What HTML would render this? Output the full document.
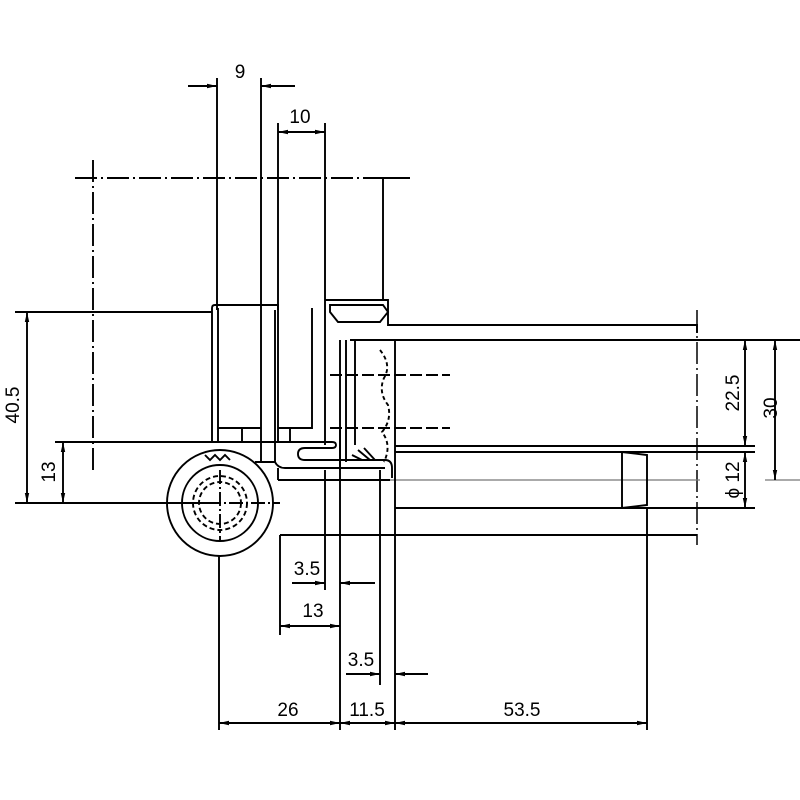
<!DOCTYPE html>
<html><head><style>
html,body{margin:0;padding:0;background:#fff;}
svg{display:block;}
text{font-family:"Liberation Sans",sans-serif;font-size:19px;fill:#000;}
</style></head><body>
<svg width="800" height="800" viewBox="0 0 800 800" xmlns="http://www.w3.org/2000/svg">
<defs>
<marker id="a" viewBox="0 0 10 6" refX="10" refY="3" markerWidth="11" markerHeight="6" orient="auto-start-reverse" markerUnits="userSpaceOnUse"><path d="M0,0.8 L10,3 L0,5.2z" fill="#000"/></marker>
</defs>
<g stroke="#000" fill="none" stroke-width="1.9">
<path d="M75,178 H383" stroke-dasharray="22,4,2,4"/>
<path d="M93,160 V470" stroke-dasharray="22,4,2,4"/>
<path d="M383,178 H410 M383,178 V300"/>
<path d="M697,310 V545" stroke-dasharray="22,4,2,4" stroke-width="1.5"/>
<path d="M380,480 H700 M765,480 H800" stroke="#777" stroke-width="1.2"/>
<path d="M217,78 V310 M261,78 V310 M278,123 V310 M325,123 V300"/>
<path d="M188,86 H217" marker-end="url(#a)"/>
<path d="M295,86 H261" marker-end="url(#a)"/>
<path d="M278,132 H301" marker-start="url(#a)"/>
<path d="M301,132 H325" marker-end="url(#a)"/>
<path d="M15,312 H212 M15,503 H220 M55,442 H330"/>
<path d="M27,312 V503" marker-start="url(#a)" marker-end="url(#a)"/>
<path d="M63,442 V503" marker-start="url(#a)" marker-end="url(#a)"/>
<path d="M212,442 V308 Q212,305 215,305 H278 V442"/>
<path d="M218,308 V442 M218,428 H261 M242,428 V442 M278,428 H312 V308 M290,428 V442 M261,310 V462 M275,310 V462"/>
<path d="M325,300 V445 M325,300 H388 V325 H697 V333"/>
<path d="M330,305 H383 L388,312 L380,322 H338 L330,312 Z"/>
<path d="M340,340 V470 M346,340 V462 M350,340 H395 V500 M355,340 V445"/>
<path d="M395,340 H800 M395,446 H755 M395,452 H755 M395,508 H755 M280,535 H697"/>
<path d="M380,350 Q392,365 384,378 Q378,392 388,405 Q392,420 382,432 Q392,445 384,462" stroke-dasharray="4,3"/>
<path d="M330,375 H450 M330,428 H450" stroke-dasharray="12,4"/>
<path d="M300,442 H332 Q336,442 336,445 Q336,448 332,448 H305 Q298,448 298,454 Q298,460 305,460 H385 Q392,460 392,468 V478"/>
<path d="M340,445 V460 M352,455 L362,460 M358,450 L370,460 M364,448 L375,460"/>
<path d="M255,462 H275 Q278,468 285,468 H385 M278,480 H390 M278,468 V480"/>
<path d="M395,452 H622 L647,455 V505 L622,508 M622,452 V508"/>
<circle cx="220" cy="503" r="53"/>
<circle cx="220" cy="503" r="38"/>
<circle cx="220" cy="503" r="27" stroke-dasharray="5,3"/>
<circle cx="220" cy="503" r="21" stroke-dasharray="5,3"/>
<path d="M185,503 H280 M220,470 V540" stroke-dasharray="14,3,2,3"/>
<path d="M205,455 l5,5 l5,-5 l5,5 l5,-5 l5,5"/>
<path d="M745,340 V446" marker-start="url(#a)" marker-end="url(#a)"/>
<path d="M775,340 V480" marker-start="url(#a)" marker-end="url(#a)"/>
<path d="M745,452 V508" marker-start="url(#a)" marker-end="url(#a)"/>
<path d="M219,555 V730 M340,430 V730 M395,500 V730 M647,508 V730 M280,535 V635 M325,470 V590 M380,470 V685"/>
<path d="M219,723 H340" marker-start="url(#a)" marker-end="url(#a)"/>
<path d="M340,723 H368" marker-start="url(#a)"/>
<path d="M368,723 H395" marker-end="url(#a)"/>
<path d="M395,723 H647" marker-start="url(#a)" marker-end="url(#a)"/>
<path d="M280,626 H340" marker-start="url(#a)" marker-end="url(#a)"/>
<path d="M292,583 H325" marker-end="url(#a)"/>
<path d="M375,583 H340" marker-end="url(#a)"/>
<path d="M346,674 H380" marker-end="url(#a)"/>
<path d="M428,674 H395" marker-end="url(#a)"/>
</g>
<text x="240" y="78" text-anchor="middle">9</text>
<text x="300" y="123" text-anchor="middle">10</text>
<text x="288" y="716" text-anchor="middle">26</text>
<text x="367" y="716" text-anchor="middle">11.5</text>
<text x="522" y="716" text-anchor="middle">53.5</text>
<text x="307" y="575" text-anchor="middle">3.5</text>
<text x="313" y="617" text-anchor="middle">13</text>
<text x="361" y="666" text-anchor="middle">3.5</text>
<text transform="translate(19,405) rotate(-90)" text-anchor="middle">40.5</text>
<text transform="translate(55,472) rotate(-90)" text-anchor="middle">13</text>
<text transform="translate(739,393) rotate(-90)" text-anchor="middle">22.5</text>
<text transform="translate(777,408) rotate(-90)" text-anchor="middle">30</text>
<text transform="translate(739,480) rotate(-90)" text-anchor="middle">ϕ 12</text>
</svg>
</body></html>
